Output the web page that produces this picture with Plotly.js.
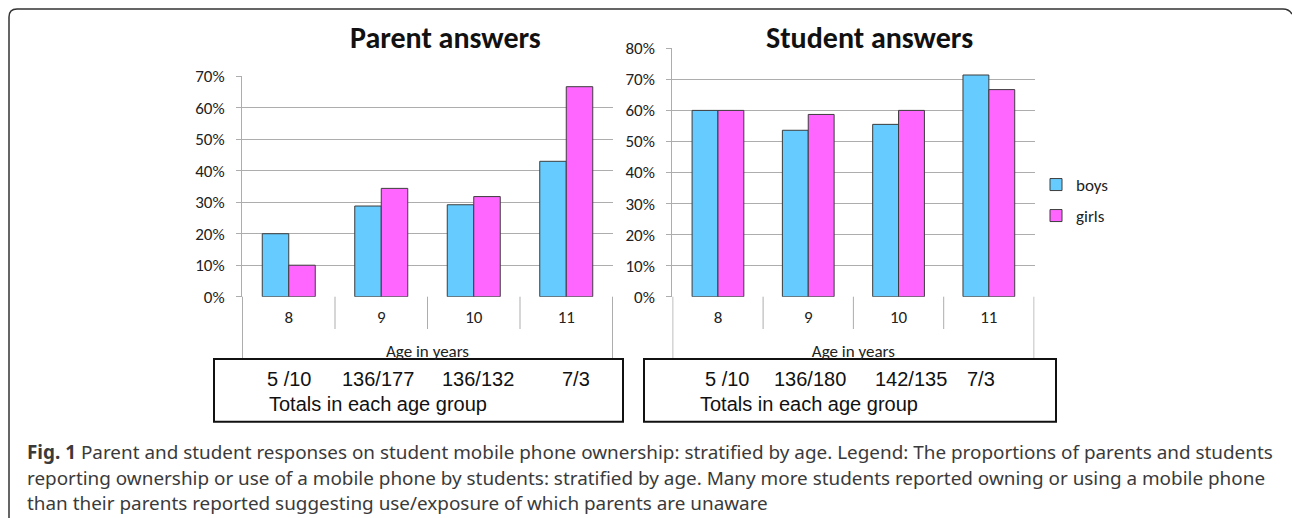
<!DOCTYPE html>
<html>
<head>
<meta charset="utf-8">
<script src="https://cdn.plot.ly/plotly-3.0.1.min.js"></script>
<style>
  html, body { margin: 0; padding: 0; background: #fff; }
  #chart { width: 1292px; height: 518px; }
</style>
</head>
<body>
<div id="chart"></div>
<script>
// ---------- data ----------
const ages = ['8', '9', '10', '11'];
const parentBoys = [20, 28.8, 29.2, 43];
const parentGirls = [10, 34.4, 31.8, 66.7];
const studentBoys = [60, 53.6, 55.5, 71.4];
const studentGirls = [60, 58.7, 60, 66.7];
const parentTotals = ['5 /10', '136/177', '136/132', '7/3'];
const studentTotals = ['5 /10', '136/180', '142/135', '7/3'];
const seriesNames = ['boys', 'girls'];
const chartTitles = ['Parent answers', 'Student answers'];
const axisTitle = 'Age in years';
const totalsLabel = 'Totals in each age group';
const captionBold = 'Fig. 1';
const captionLines = [
  'Parent and student responses on student mobile phone ownership: stratified by age. Legend: The proportions of parents and students',
  'reporting ownership or use of a mobile phone by students: stratified by age. Many more students reported owning or using a mobile phone',
  'than their parents reported suggesting use/exposure of which parents are unaware'
];

// ---------- helpers (pixel -> paper) ----------
const W = 1292, H = 518;
const fx = x => x / W;
const fy = y => 1 - y / H;

const BLUE = '#66CCFF', PINK = '#FF66FF', EDGE = '#3c3c3c';
const GRID = '#ADADAD';
const chartFont = 'Carlito, Lato, "Open Sans", sans-serif';
const boxFont = '"Liberation Sans", Arial, sans-serif';
const capFont = '"Noto Sans", "Open Sans", sans-serif';

function barTrace(y, name, color, xa, ya, legend, show) {
  return {
    type: 'bar', x: ages, y: y, name: name,
    xaxis: xa, yaxis: ya,
    marker: { color: color, line: { color: EDGE, width: 1 } },
    showlegend: show, legend: legend, hoverinfo: 'skip'
  };
}

const data = [
  barTrace(parentBoys, seriesNames[0], BLUE, 'x', 'y', 'legend', false),
  barTrace(parentGirls, seriesNames[1], PINK, 'x', 'y', 'legend', false),
  barTrace(studentBoys, seriesNames[0], BLUE, 'x2', 'y2', 'legend', true),
  barTrace(studentGirls, seriesNames[1], PINK, 'x2', 'y2', 'legend2', true)
];

function xAxis(domain) {
  return {
    domain: domain, type: 'category', showgrid: false, zeroline: false,
    showline: false, ticks: '', ticklabelstandoff: 8,
    tickfont: { family: chartFont, size: 17, color: '#222' },
    title: { text: axisTitle, standoff: 18, font: { family: chartFont, size: 17, color: '#222' } },
    fixedrange: true
  };
}
function yAxis(domain, max, anchor) {
  return {
    domain: domain, range: [0, max], dtick: 10, ticksuffix: '%',
    showline: true, linecolor: GRID, linewidth: 1,
    ticks: 'outside', ticklen: 5, tickcolor: GRID,
    showgrid: true, gridcolor: GRID, gridwidth: 1, zeroline: false,
    ticklabelstandoff: 8,
    tickfont: { family: chartFont, size: 17, color: '#222' },
    anchor: anchor, fixedrange: true
  };
}

const shapes = [];
// separators below the category axis
function separators(xref, n) {
  for (let k = 0; k <= n; k++) {
    const edge = (k === 0 || k === n);
    shapes.push({
      type: 'line', xref: xref, yref: 'paper',
      x0: k - 0.5, x1: k - 0.5, y0: fy(296.7), y1: fy(edge ? 362 : 329),
      line: { color: GRID, width: 1 }
    });
  }
}
separators('x', ages.length);
separators('x2', ages.length);

// totals boxes
[[214, 623], [644, 1056]].forEach(([a, b]) => {
  shapes.push({
    type: 'rect', xref: 'paper', yref: 'paper',
    x0: fx(a), x1: fx(b), y0: fy(421.7), y1: fy(359),
    line: { color: '#111', width: 2 }, fillcolor: '#fff', layer: 'above'
  });
});

// outer frame (left + top with rounded corners)
shapes.push({
  type: 'path', xref: 'paper', yref: 'paper',
  path: `M ${fx(9)},${fy(518)} L ${fx(9)},${fy(17)} Q ${fx(9)},${fy(9)} ${fx(17)},${fy(9)} ` +
        `L ${fx(1283)},${fy(9)} Q ${fx(1289)},${fy(9)} ${fx(1292)},${fy(14)}`,
  line: { color: '#333', width: 1.5 }
});

const annotations = [];
// chart titles
[[445, chartTitles[0]], [869, chartTitles[1]]].forEach(([x, t]) => {
  annotations.push({
    xref: 'paper', yref: 'paper', x: fx(x), y: fy(38), xanchor: 'center', yanchor: 'middle',
    text: '<b>' + t + '</b>', showarrow: false,
    font: { family: chartFont, size: 30, color: '#111' }
  });
});
// totals text
const parentTotX = [265, 340, 440, 560];
const studentTotX = [703, 772, 873, 965];
parentTotals.forEach((t, i) => annotations.push({
  xref: 'paper', yref: 'paper', x: fx(parentTotX[i]), y: fy(379), xanchor: 'left', yanchor: 'middle',
  text: t, showarrow: false, font: { family: boxFont, size: 20, color: '#111' }
}));
studentTotals.forEach((t, i) => annotations.push({
  xref: 'paper', yref: 'paper', x: fx(studentTotX[i]), y: fy(379), xanchor: 'left', yanchor: 'middle',
  text: t, showarrow: false, font: { family: boxFont, size: 20, color: '#111' }
}));
[267, 698].forEach(x => annotations.push({
  xref: 'paper', yref: 'paper', x: fx(x), y: fy(404), xanchor: 'left', yanchor: 'middle',
  text: totalsLabel, showarrow: false, font: { family: boxFont, size: 20, color: '#111' }
}));
// caption
const capY = [452, 478, 503];
captionLines.forEach((t, i) => annotations.push({
  xref: 'paper', yref: 'paper', x: fx(25), y: fy(capY[i]), xanchor: 'left', yanchor: 'middle',
  text: (i === 0 ? '<b>' + captionBold + '</b> ' : '') + t,
  showarrow: false, font: { family: capFont, size: 18.9, color: '#3a3a3a' }
}));

const legendBase = {
  xref: 'paper', yref: 'paper', xanchor: 'left', yanchor: 'middle',
  bgcolor: 'rgba(0,0,0,0)', borderwidth: 0,
  font: { family: chartFont, size: 17, color: '#222' }
};

const layout = {
  width: W, height: H,
  margin: { l: 0, r: 0, t: 0, b: 0 },
  paper_bgcolor: '#fff', plot_bgcolor: 'rgba(0,0,0,0)',
  barmode: 'group', bargap: 0.427, bargroupgap: 0,
  xaxis: xAxis([fx(242), fx(613)]),
  yaxis: yAxis([fy(296.7), fy(76.3)], 70, 'x'),
  xaxis2: Object.assign(xAxis([fx(672.3), fx(1034.5)]), { anchor: 'y2' }),
  yaxis2: yAxis([fy(296.7), fy(48.3)], 80, 'x2'),
  legend: Object.assign({}, legendBase, { x: fx(1036), y: fy(185) }),
  legend2: Object.assign({}, legendBase, { x: fx(1036), y: fy(216) }),
  shapes: shapes,
  annotations: annotations,
  font: { family: chartFont }
};
layout.xaxis.anchor = 'y';

Plotly.newPlot('chart', data, layout, { displayModeBar: false, staticPlot: true });
</script>
</body>
</html>
